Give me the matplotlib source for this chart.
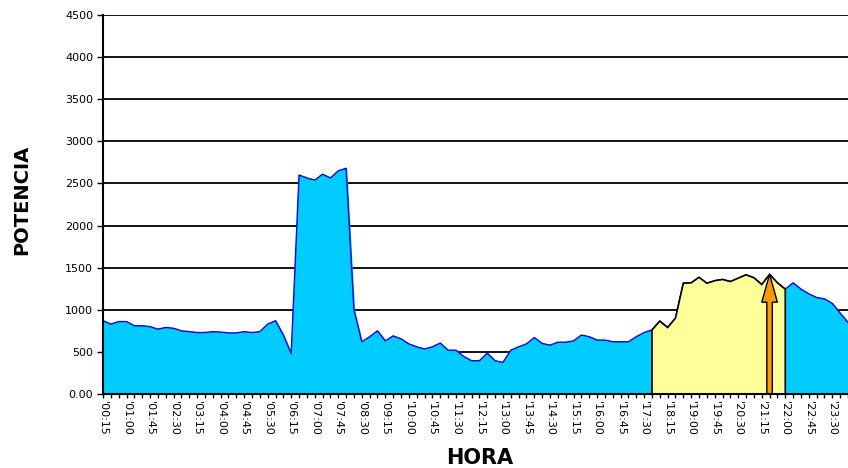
import numpy as np
import matplotlib
matplotlib.use("Agg")
import matplotlib.pyplot as plt

# potencia cada 15 minutos, de 00:15 a 24:00
potencia = [
    870, 830, 860, 860, 810, 810, 800, 770, 790, 780,
    750, 740, 730, 730, 740, 735, 725, 725, 740, 730,
    740, 830, 870, 700, 480, 2600, 2565, 2540, 2610, 2565,
    2650, 2680, 1000, 620, 680, 750, 630, 690, 655, 595,
    560, 535, 560, 605, 520, 520, 445, 395, 395, 485,
    395, 375, 520, 560, 595, 670, 600, 580, 615, 615,
    630, 700, 680, 640, 640, 620, 620, 620, 680, 730,
    760, 865, 790, 900, 1315, 1320, 1385, 1315, 1345, 1360,
    1335, 1375, 1415, 1380, 1300, 1420, 1320, 1245, 1320, 1245,
    1190, 1145, 1130, 1075, 960, 850,
]
horas = ["'%02d:%02d" % divmod(15 * (i + 1), 60) for i in range(len(potencia))]
punta_ini, punta_fin = 70, 87   # zona amarilla (hora punta)
idx_max = 85                    # flecha en el maximo
y_ticks = [0, 500, 1000, 1500, 2000, 2500, 3000, 3500, 4000, 4500]
y_labels = ["0.00", "500", "1000", "1500", "2000", "2500", "3000", "3500", "4000", "4500"]

x = np.arange(len(potencia))
y = np.array(potencia)

fig = plt.figure(figsize=(8.48, 4.68), dpi=100)
ax = fig.add_axes([103 / 848, 1 - 394 / 468, 1 - 103 / 848, 379 / 468])

ax.fill_between(x, y, color="#00CCFF", zorder=2)
ax.plot(x, y, color="#0000EE", lw=1.0, zorder=3)

xs = x[punta_ini:punta_fin + 1]
ys = y[punta_ini:punta_fin + 1]
ax.fill(np.r_[xs[0], xs, xs[-1]], np.r_[0, ys, 0], facecolor="#FFFF99",
        edgecolor="black", lw=1.2, zorder=4)

ax.arrow(idx_max, 0, 0, y[idx_max], width=0.7, head_width=2.0, head_length=330,
         length_includes_head=True, fc="#FF9900", ec="black", lw=1.0, zorder=5)

ax.set_xlim(0, 94.3)
ax.set_ylim(0, 4500)
ax.set_yticks(y_ticks)
ax.set_yticklabels(y_labels, fontsize=8)
ax.set_xticks(x[::3])
ax.set_xticklabels(horas[::3], rotation=-90, fontsize=8, va="top", ha="center")
ax.set_xticks(x, minor=True)
ax.tick_params(axis="x", which="both", length=3, width=1, pad=2)
ax.tick_params(axis="y", length=4, width=1, pad=3)

ax.yaxis.grid(True, color="black", lw=1.3)
ax.set_axisbelow(True)
for s in ["top", "right"]:
    ax.spines[s].set_visible(False)
ax.spines["left"].set_linewidth(1.5)
ax.spines["bottom"].set_linewidth(1.5)
ax.spines["left"].set_zorder(6)
ax.spines["bottom"].set_zorder(6)

fig.text(22 / 848, 1 - 200 / 468, "POTENCIA", rotation=90, fontsize=14,
         fontweight="bold", ha="center", va="center")
fig.text(480 / 848, 1 - 458 / 468, "HORA", fontsize=15, fontweight="bold",
         ha="center", va="center")

fig.savefig("out.png", dpi=100)
